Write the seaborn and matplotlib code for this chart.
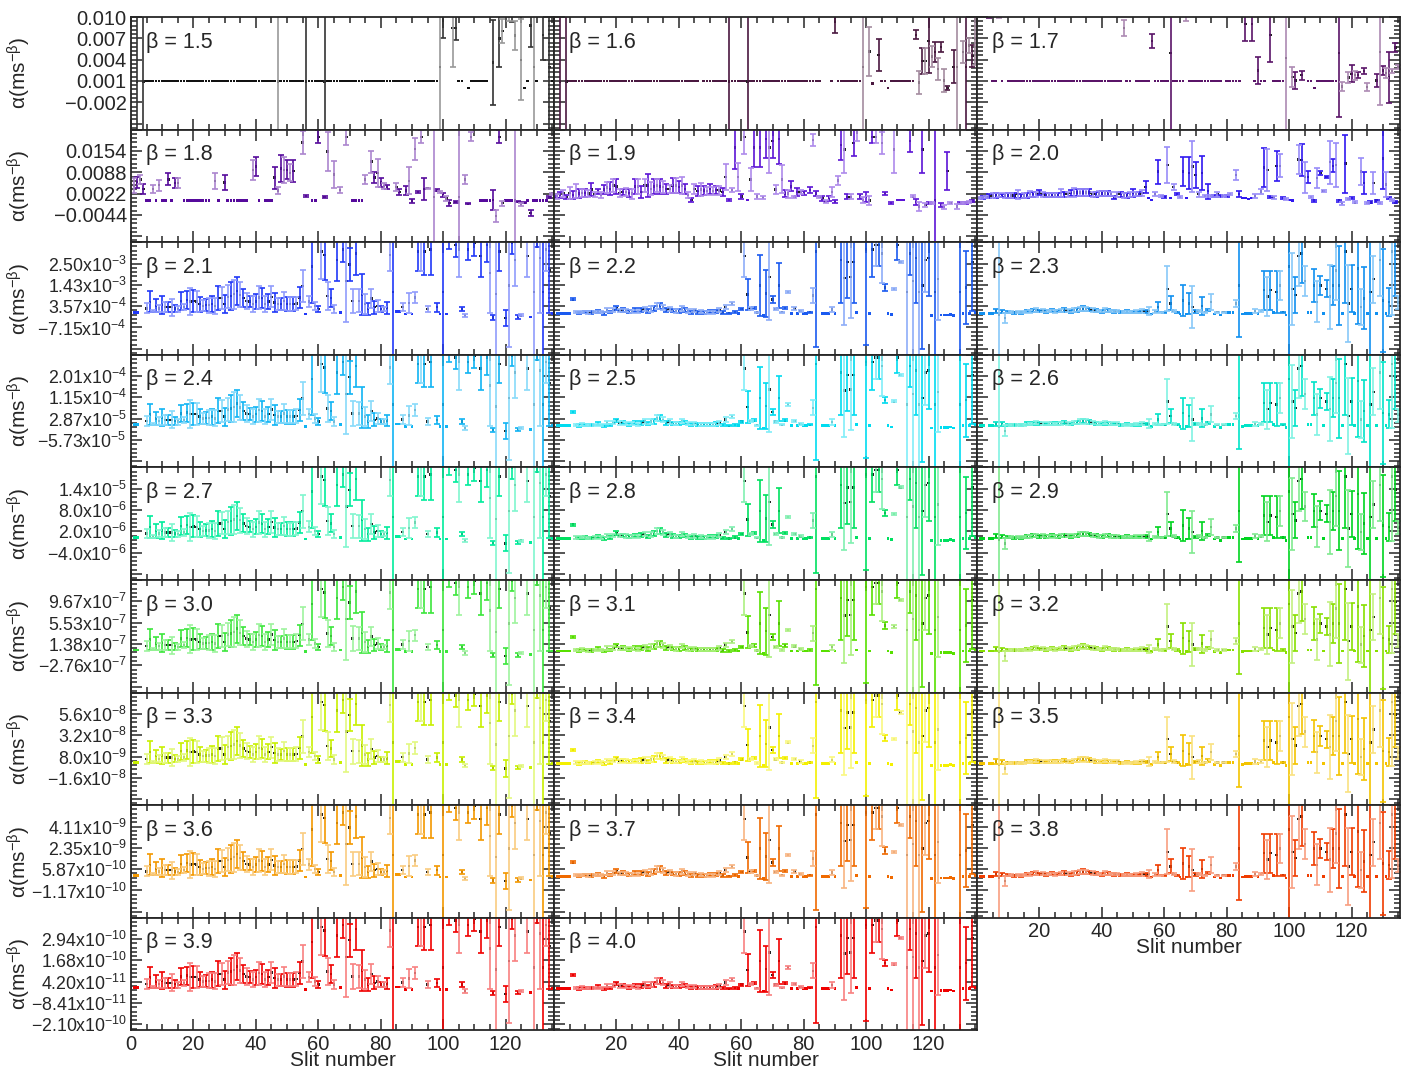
import numpy as np
import pandas as pd
import matplotlib
matplotlib.use("Agg")
import matplotlib.pyplot as plt
import matplotlib.colors as mcolors
from matplotlib.ticker import MultipleLocator, AutoMinorLocator
import seaborn as sns

# ---------------- data ----------------
betas = [1.5, 1.6, 1.7, 1.8, 1.9, 2.0, 2.1, 2.2, 2.3, 2.4, 2.5, 2.6, 2.7,
         2.8, 2.9, 3.0, 3.1, 3.2, 3.3, 3.4, 3.5, 3.6, 3.7, 3.8, 3.9, 4.0]
slit_ids = list(range(136))

# one axis step (distance between labelled y ticks) per row, in ms^-beta
row_step = [0.003, 0.0066, 1.0715e-3, 8.6e-5, 6.0e-6, 4.14e-7, 2.4e-8, 1.76e-9, 1.26e-10]
row_labels = [
    ["", "−0.002", "0.001", "0.004", "0.007", "0.010"],
    ["", "−0.0044", "0.0022", "0.0088", "0.0154", ""],
    ["", "−7.15x10$^{-4}$", "3.57x10$^{-4}$", "1.43x10$^{-3}$", "2.50x10$^{-3}$", ""],
    ["", "−5.73x10$^{-5}$", "2.87x10$^{-5}$", "1.15x10$^{-4}$", "2.01x10$^{-4}$", ""],
    ["", "−4.0x10$^{-6}$", "2.0x10$^{-6}$", "8.0x10$^{-6}$", "1.4x10$^{-5}$", ""],
    ["", "−2.76x10$^{-7}$", "1.38x10$^{-7}$", "5.53x10$^{-7}$", "9.67x10$^{-7}$", ""],
    ["", "−1.6x10$^{-8}$", "8.0x10$^{-9}$", "3.2x10$^{-8}$", "5.6x10$^{-8}$", ""],
    ["", "−1.17x10$^{-10}$", "5.87x10$^{-10}$", "2.35x10$^{-9}$", "4.11x10$^{-9}$", ""],
    ["−2.10x10$^{-10}$", "−8.41x10$^{-11}$", "4.20x10$^{-11}$", "1.68x10$^{-10}$", "2.94x10$^{-10}$", ""],
]

# points as (slit, alpha / row_step, error / row_step); unlisted slits sit on the flat level
pts_15 = [(2, .3, 7), (4, .3, 7), (47, .3, 7), (56, .3, 7), (62, .3, 7), (99, 1.0, 7),
          (100, 3.17, .83), (103, 2.83, 1.83), (104, 2.81, .56), (108, 0, 0), (116, 1.2, 2.0),
          (118, 2.33, 1.33), (119, 2.67, .56), (121, 3.5, .33), (122, 3.5, .4), (123, 2.47, .67),
          (125, 1.33, 1.9), (126, 0, 0), (128, 2.93, 1.0), (129, 1.0, 7), (132, 2.5, 1.2), (134, 1.0, 7)]
miss_15 = [0, 1, 3, 90, 101, 102, 107, 115, 117, 120, 124, 131, 133]

pts_16 = [(2, .3, 7), (4, .3, 7), (56, .3, 7), (62, .3, 7), (90, 3.1, .5), (99, 1.0, 7),
          (101, 1.71, 1.15), (102, .23, 0), (104, 1.56, .74), (107, 0, 0), (116, 2.5, .22),
          (117, .26, .55), (118, 1.27, .59), (119, 1.27, .63), (120, 2.2, 1.5), (121, 1.49, .48),
          (122, 1.7, .48), (123, .9, .52), (124, 1.93, .22), (125, .35, .55), (126, 0, .1),
          (128, 1.0, .78), (129, 1.0, 7), (131, 1.7, .52), (132, 1.0, 7), (133, 2.0, .37),
          (134, 1.5, .5), (135, 2.3, 1.2)]
miss_16 = [0, 1, 3, 47, 86, 87, 88, 100, 103, 127, 130]

pts_17 = [(4, 3.6, .3), (7, 3.6, .3), (47, 2.82, .37), (56, 2.2, .33), (62, 1.64, 6), (67, 3.4, .25),
          (86, 3.0, .8), (88, 3.0, .8), (90, .82, .63), (94, 2.5, 1.3), (99, 1.4, 6), (101, .53, .48),
          (102, .35, .4), (104, .6, .22), (108, 0, 0), (116, 1.64, 3.0), (117, .08, .2), (119, .5, .24),
          (120, .67, .4), (121, .6, .22), (122, .6, .15), (124, .8, .15), (125, .05, .2), (128, .35, .3),
          (129, 1.7, 2.5), (130, .82, .22), (131, .7, .22), (132, .5, 1.2), (133, .8, .1),
          (134, 1.9, .2), (135, 1.0, .1)]
miss_17 = [0, 1, 2, 3, 9, 50, 79, 85, 87, 93, 100, 103, 105, 118, 123, 126, 127]

pts_18 = [(1, .7, .35), (2, .85, .26), (3, 1.0, .22), (4, .55, .22), (7, .55, .17), (9, .73, .26),
          (12, 1.0, .28), (14, .82, .22), (15, .82, .22), (27, .93, .39), (30, .85, .37),
          (39, 1.45, .47), (40, 1.6, .43), (46, 1.08, .52), (47, .48, .15), (48, 1.5, .64),
          (49, 1.45, .6), (50, 1.45, .45), (51, 1.3, .4), (52, 1.38, .52), (55, 2.73, .52),
          (56, .22, .05), (60, 3.0, .3), (62, .18, .05), (63, 2.3, .9), (65, 1.23, .64), (67, .5, .12),
          (69, 3.0, .4), (75, 1.0, .22), (77, 1.83, .52), (78, 1.08, .27), (79, 1.3, .64),
          (80, .85, .2), (81, .7, .15), (82, .63, .1), (85, .63, .2), (86, .4, .15), (88, .48, .2),
          (89, .93, .64), (90, 0, .1), (91, 2.43, .52), (92, .4, .03), (93, 3.0, .3), (94, .55, .52),
          (95, .58, .02), (97, .18, 4.0), (98, .48, .05), (99, .4, .05), (100, .25, .1), (101, .1, .1),
          (102, -.12, .15), (104, -.05, .05), (105, .18, 4.0), (107, 1.0, .22), (108, -.15, .03),
          (109, 3.0, .2), (116, .03, .48), (117, -.72, .26), (118, 3.0, .3), (119, -.12, .12),
          (123, 0, 4.0), (124, -.05, .03), (125, -.2, .07), (126, -.1, .03), (128, -.57, .15),
          (134, .18, .05), (135, .33, .05)]
miss_18 = [0, 16, 26, 29, 38, 42, 53, 54, 57, 61, 64, 66, 68, 70, 76, 83, 84, 87, 96, 103, 106, 110, 111]

pts_19 = [(0, .18, .05), (1, .21, .11), (2, .26, .15), (3, .33, .15), (4, .18, .1), (5, .36, .28),
          (6, .26, .2), (7, .45, .34), (8, .33, .2), (9, .36, .19), (10, .36, .19), (11, .33, .17),
          (12, .52, .3), (13, .3, .11), (14, .44, .11), (15, .26, .13), (16, .52, .23), (17, .61, .27),
          (18, .56, .3), (19, .71, .3), (20, .67, .34), (21, .36, .17), (22, .41, .15), (23, .41, .19),
          (24, .36, .19), (25, .33, .23), (26, .67, .36), (27, .67, .34), (28, .41, .27), (29, .71, .3),
          (30, .71, .53), (31, .56, .3), (32, .67, .34), (33, .71, .3), (34, .67, .34), (35, .64, .27),
          (36, .56, .23), (37, .56, .19), (38, .71, .34), (39, .71, .34), (40, .64, .3), (41, .71, .38),
          (42, .56, .23), (43, .26, .15), (44, .03, .08), (45, .56, .23), (46, .45, .23), (47, .52, .3),
          (48, .48, .23), (49, .45, .19), (50, .56, .23), (51, .45, .2), (52, .5, .2), (53, .48, .2),
          (54, .4, .2), (55, 1.1, .6), (56, .03, .05), (57, .5, .1), (58, 2.5, 1.0), (59, 1.1, .66),
          (60, .2, .1), (61, 3.0, .8), (62, .03, 0), (63, 1.0, .53), (64, 2.5, .9), (65, .2, .1),
          (66, 2.5, .9), (67, .14, .08), (68, 2.9, .9), (69, 2.5, 1.2), (70, 2.8, .8), (71, .52, .2),
          (72, 2.9, 1.2), (73, 1.0, .65), (74, .33, .17), (75, .33, .19), (76, .67, .24), (77, .18, .05),
          (78, .41, .17), (79, .41, .1), (80, .36, .1), (82, .5, .15), (83, 2.85, .3), (84, .33, .1),
          (85, .18, .05), (86, .1, .1), (87, -.05, .08), (88, .1, .1), (89, .41, .25), (90, -.05, .08),
          (91, .95, .2), (92, 2.6, .7), (93, 2.4, 1.1), (94, .18, .12), (95, .18, .12), (96, 2.7, .6),
          (97, 3.2, .4), (98, .2, .13), (99, .03, .15), (100, .18, .23), (101, 0, .2), (102, 3.0, .3),
          (103, 3.0, .3), (105, 2.7, .5), (106, .33, .08), (108, -.12, .05), (109, 2.4, 1.1),
          (110, .03, 0), (111, .03, 0), (112, .03, 0), (114, 2.8, .5), (115, .2, .05), (116, -.05, .15),
          (117, -.27, .2), (118, 2.4, 1.1), (119, -.2, .08), (120, -.1, .05), (121, -.12, .05),
          (122, 0, 4.0), (124, -.2, .1), (125, -.3, .1), (126, 1.4, .9), (127, -.12, .05),
          (129, -.27, .1), (130, -.12, .05), (131, -.1, .05), (132, -.12, .05), (133, -.05, .05),
          (134, 0, .05)]
miss_19 = [81, 104, 107, 113, 123, 128, 135]

pts_20 = [(1, .12, .05), (2, .15, .05), (3, .18, .05), (4, .21, .08), (5, .24, .12), (6, .24, .1),
          (7, .27, .1), (8, .23, .08), (9, .24, .1), (10, .24, .1), (11, .24, .1), (12, .24, .1),
          (13, .3, .2), (14, .21, .08), (15, .24, .1), (16, .24, .1), (17, .3, .14), (18, .3, .12),
          (19, .3, .12), (20, .38, .1), (21, .3, .12), (22, .26, .1), (23, .26, .1), (24, .26, .1),
          (25, .26, .1), (26, .26, .1), (27, .36, .17), (28, .3, .12), (29, .3, .12), (30, .36, .15),
          (31, .39, .21), (32, .38, .18), (33, .38, .18), (34, .38, .18), (35, .38, .18), (36, .38, .15),
          (37, .3, .12), (38, .3, .12), (39, .33, .12), (40, .33, .12), (41, .33, .12), (42, .33, .12),
          (43, .3, .1), (44, .15, .05), (45, .3, .12), (46, .3, .12), (47, .24, .1), (48, .24, .1),
          (49, .3, .12), (50, .36, .19), (51, .3, .1), (52, .3, .1), (53, .36, .15), (54, .64, .3),
          (55, .12, 0), (56, .03, 0), (57, .3, .09), (58, 1.36, .57), (59, .23, .05), (60, .18, .05),
          (61, 1.67, .83), (62, .12, 0), (63, .64, .15), (64, .3, .05), (65, .18, .05), (66, 1.36, .68),
          (67, .12, 0), (68, 1.29, .76), (69, 1.6, 1.2), (70, 1.2, .6), (71, .3, .12), (72, 1.29, .8),
          (73, .23, .05), (74, .45, .35), (75, .23, .05), (76, .23, .05), (77, .3, .12), (78, .23, .05),
          (79, .23, .05), (80, .23, .05), (81, .3, .05), (83, 1.2, .22), (84, .3, .15), (85, .12, 0),
          (86, .12, 0), (87, .08, 0), (88, .12, 0), (89, .23, .1), (91, .42, .12), (92, 1.55, .9),
          (93, 1.44, 1.0), (94, .18, .05), (95, .15, .05), (96, 1.64, .7), (97, 1.64, .53), (98, .12, .05),
          (99, .08, .05), (100, .03, 0), (101, 0, 0), (103, 1.94, .68), (104, 1.9, .75), (105, 1.1, .72),
          (106, 1.1, .27), (107, .18, .05), (108, 0, .05), (109, 1.06, .45), (110, 1.3, .1),
          (111, .45, .05), (112, 1.1, .05), (113, 1.8, 1.0), (114, 1.64, .3), (115, 1.67, 1.05),
          (116, 0, .05), (117, -.12, .08), (118, 1.74, 1.36), (119, .08, .05), (120, .12, .05),
          (121, -.08, .05), (123, 1.36, .64), (124, .83, .53), (125, -.12, .05), (126, -.08, .05),
          (127, .83, .5), (128, 0, .05), (129, -.12, .05), (130, 1.97, 1.44), (131, .76, .6),
          (132, .12, .05), (133, .03, .05), (134, -.08, .05)]
miss_20 = [82, 90, 102, 122, 135]

# column profiles for beta >= 2.1 (same slit pattern within a column, rescaled per row)
pts_left = [(1, .05, 0), (2, .05, 0), (5, .23, .23), (6, .54, .5), (7, .09, .05), (8, .35, .31),
            (9, .23, .17), (10, .38, .41), (11, .28, .23), (12, .28, .23), (13, .28, .4), (14, .23, .17),
            (15, .2, .14), (16, .58, .41), (17, .28, .15), (18, .62, .42), (19, .55, .65), (20, .57, .52),
            (21, .55, .5), (22, .43, .35), (23, .35, .25), (24, .38, .28), (25, .38, .35), (26, .43, .38),
            (27, .35, .38), (28, .71, .58), (29, .71, .52), (30, .43, .43), (31, .77, .54), (32, .82, .65),
            (33, .89, .69), (34, 1.05, .65), (35, .86, .59), (36, .71, .42), (37, .58, .38), (38, .55, .27),
            (39, .43, .36), (40, .55, .35), (41, .74, .54), (42, .71, .46), (43, .43, .36), (44, .55, .35),
            (45, .77, .5), (46, .51, .46), (47, .43, .29), (48, .43, .28), (49, .58, .44), (50, .43, .32),
            (51, .43, .31), (52, .43, .32), (53, .46, .32), (54, .74, .5), (55, 1.28, .77), (56, -.03, 0),
            (57, .55, .25), (58, 2.2, 1.7), (59, .35, .2), (60, .2, .15), (61, 2.9, 1.3), (62, 2.74, 1.2),
            (63, .82, .65), (64, .71, .42), (65, .2, .2), (66, 2.5, 1.0), (67, .05, 0), (68, 3.0, .6),
            (69, 1.5, 1.9), (70, 2.28, .77), (71, .58, .58), (72, 2.8, 1.0), (73, .58, .54), (74, .86, .96),
            (75, .43, .46), (76, .2, .3), (77, .69, .46), (78, .28, .3), (79, .35, .27), (80, .2, .13),
            (81, .2, .1), (82, .25, .28), (83, 2.74, .77), (84, 1.0, 4.0), (85, .09, 0), (86, .09, 0),
            (87, .3, .2), (88, -.03, 0), (89, .48, .46), (90, -.03, 0), (91, .74, .27), (92, 2.9, .9),
            (93, 3.5, 1.5), (94, 2.9, 1.1), (95, .2, .15), (96, 3.0, 1.2), (98, .28, .2), (99, -.03, 0),
            (100, 1.0, 4.0), (101, -.03, 0), (102, 3.4, .4), (104, 3.2, .55), (105, 3.0, 1.3), (106, .2, .1),
            (107, -.1, .08), (108, 3.0, .5), (110, 3.3, .6), (112, 2.7, 1.0), (114, 3.2, .8), (115, 1.9, 1.9),
            (116, -.2, .1), (117, .9, 3.6), (118, 2.9, .9), (120, -.23, .38), (121, 1.3, 2.9), (122, 3.3, .5),
            (123, 2.5, 1.2), (124, -.18, .08), (125, -.1, .05), (127, 2.7, 1.0), (128, -.18, 0),
            (129, 1.0, 3.6), (130, 3.4, .3), (131, 2.6, 2.6), (132, 1.0, 3.6), (133, 3.0, 1.0),
            (134, 2.0, 2.0)]
miss_left = [3, 4, 97, 103, 109, 111, 113, 119, 126]

pts_mid = [(6, .65, .05), (7, .05, .06), (8, .02, .06), (9, .06, .06), (10, .05, .06), (11, .03, .06),
           (12, .03, .06), (13, .05, .06), (14, .1, .07), (15, .05, .06), (16, 0, .06), (17, .15, .08),
           (18, .05, .06), (19, .15, .08), (20, .25, .08), (21, .13, .08), (22, .15, .08), (23, .12, .08),
           (24, .08, .07), (25, .1, .07), (26, .15, .08), (27, .08, .07), (28, .15, .1), (29, .2, .1),
           (30, .1, .08), (31, .2, .12), (32, .22, .12), (33, .35, .14), (34, .35, .14), (35, .28, .12),
           (36, .15, .1), (37, .2, .1), (38, .12, .08), (39, .1, .08), (40, .1, .08), (41, .22, .1),
           (42, .15, .08), (43, .1, .08), (44, .05, .07), (45, .12, .08), (46, .05, .07), (47, .08, .07),
           (48, .05, .07), (49, .05, .07), (50, .08, .07), (51, .05, .07), (52, .08, .08), (53, .15, .1),
           (54, .03, .06), (55, .3, .1), (56, 0, .03), (57, .45, .08), (58, .05, .05), (60, .2, .05),
           (61, 2.7, 1.0), (62, .88, .75), (63, .22, .05), (64, .26, .05), (65, .03, .03), (66, 1.3, 1.45),
           (67, -.1, 0), (68, .93, 1.1), (69, 1.7, 2.0), (70, .65, .15), (71, .2, .05), (72, 1.3, 1.05),
           (73, .05, .03), (74, .26, .05), (75, 1.0, .05), (77, .22, .05), (79, .1, .05), (82, .05, .03),
           (83, .84, .35), (84, 2.9, 4.5), (89, .18, .12), (92, 2.5, 2.0), (93, 1.66, 2.2), (94, 2.4, 1.7),
           (95, 1.7, 1.9), (96, 2.4, 1.9), (97, .05, 0), (100, 3.0, 4.5), (102, 3.0, 1.3), (103, 3.2, 1.0),
           (104, 3.2, 1.0), (105, 2.8, 1.4), (106, 1.2, .15), (108, -.05, 0), (109, 1.15, .05),
           (110, 3.2, .7), (111, 2.4, .05), (113, 1.0, 4.0), (114, 2.8, 1.0), (115, 1.5, 3.5),
           (116, 2.6, 2.1), (117, 1.0, 3.5), (118, 1.3, 3.0), (119, 2.5, 1.5), (120, 2.6, 1.8),
           (121, -.1, 0), (122, 1.0, 4.0), (123, 1.6, 1.9), (124, -.08, 0), (125, -.08, 0), (126, -.08, 0),
           (127, -.05, 0), (128, -.1, 0), (130, 1.0, 4.0), (132, 1.2, 1.7), (134, 2.4, 2.3), (135, .05, 0)]
miss_mid = [85, 91, 98, 99, 112, 129]

pts_right = [(6, .1, .1), (7, -.05, 4.5), (8, .08, .08), (9, -.23, .25), (10, .05, .05), (11, .05, .05),
             (12, .03, .05), (13, .05, .05), (14, .03, .05), (15, .05, .05), (16, .1, .06), (17, .08, .06),
             (18, .12, .07), (19, .15, .08), (20, .1, .06), (21, .12, .07), (22, .08, .06), (23, .1, .06),
             (24, .12, .07), (25, .08, .06), (26, .1, .06), (27, .12, .07), (28, .15, .08), (29, .12, .07),
             (30, .08, .06), (31, .15, .08), (32, .15, .08), (33, .2, .1), (34, .22, .1), (35, .2, .1),
             (36, .18, .08), (37, .15, .08), (38, .12, .07), (39, .1, .06), (40, .08, .06), (41, .15, .08),
             (42, .12, .07), (43, .1, .06), (44, .08, .06), (45, .1, .06), (46, .05, .05), (47, .05, .05),
             (48, .08, .06), (49, .05, .05), (50, .05, .05), (51, .08, .06), (52, .05, .05), (53, .1, .08),
             (54, .08, .06), (55, .1, .2), (56, -.03, 0), (57, .08, .05), (58, .3, .25), (59, .05, .03),
             (60, .05, .03), (61, 1.15, 1.05), (62, .46, .33), (63, .1, .05), (64, .05, .03), (65, -.03, 0),
             (66, .6, .73), (67, -.03, 0), (68, .46, .5), (69, .3, 1.0), (70, .08, .05), (71, .1, .05),
             (72, .35, .42), (73, .05, .03), (74, .15, .05), (75, .54, .38), (76, -.03, 0), (77, .05, .03),
             (78, -.08, 0), (79, .05, .03), (80, .05, 0), (81, .05, 0), (82, .05, 0), (83, .46, .15),
             (84, 1.3, 2.4), (85, -.03, 0), (89, .1, .1), (91, .1, .05), (92, 1.08, .92), (93, .78, .92),
             (94, 1.08, .92), (95, .05, 0), (96, 1.0, 1.0), (97, 1.3, .7), (98, .05, .03), (99, -.08, 0),
             (100, 2.2, 4.5), (101, 1.15, 1.7), (102, .85, .85), (103, 2.7, 1.4), (104, 2.8, 1.4),
             (105, 1.5, .7), (106, .05, 0), (107, .05, 0), (108, 1.3, .77), (109, .54, .96), (110, 1.3, .45),
             (112, 1.15, .4), (113, .78, 1.5), (114, 1.3, .9), (115, 2.0, 1.4), (116, 1.3, 1.85),
             (118, 2.9, 2.4), (119, .46, 1.8), (120, 1.15, 1.1), (122, 2.1, 2.6), (123, .3, .85),
             (124, .7, 1.45), (126, 1.0, 4.0), (127, 1.6, 1.1), (129, 2.5, 1.7), (130, .6, 2.4),
             (132, .54, .65), (133, 2.9, 3.0), (134, 2.3, 1.5), (135, .5, .3)]
miss_right = [3]

panel_colors = ["#333333", "#4a1840", "#5a1468", "#560a9c", "#5c14d6", "#3018f0", "#2038f8",
                "#1a5af0", "#1090f0", "#10b4f4", "#00dcf0", "#00e4c8", "#00ec9c", "#00e060",
                "#00d420", "#3ce63c", "#58e000", "#88e000", "#c8f000", "#f4f000", "#f4c400",
                "#f49800", "#f06a00", "#f03c00", "#f00000", "#f00000"]

own_data = {0: (pts_15, miss_15), 1: (pts_16, miss_16), 2: (pts_17, miss_17),
            3: (pts_18, miss_18), 4: (pts_19, miss_19), 5: (pts_20, miss_20)}
col_data = {0: (pts_left, miss_left), 1: (pts_mid, miss_mid), 2: (pts_right, miss_right)}


def panel_frame(pts, missing, flat):
    d = {s: (flat, 0.0) for s in slit_ids if s not in missing}
    for s, v, e in pts:
        d[s] = (v, e)
    rows = [(s, v, e) for s, (v, e) in sorted(d.items())]
    return pd.DataFrame(rows, columns=["slit", "u", "err"])


def lighten(c, f):
    r = np.array(mcolors.to_rgb(c))
    return tuple(r + (1 - r) * f)


# ---------------- figure ----------------
sns.set_style("ticks")
plt.rcParams["font.family"] = ["Liberation Sans", "DejaVu Sans"]
plt.rcParams["mathtext.fontset"] = "custom"
plt.rcParams["mathtext.rm"] = "Liberation Sans"
plt.rcParams["mathtext.it"] = "Liberation Sans:italic"
plt.rcParams["mathtext.default"] = "regular"
plt.rcParams["axes.linewidth"] = 1.3

W, H = 1411, 1069
fig = plt.figure(figsize=(W / 100, H / 100), dpi=100)
left0, top0, pw, ph = 131, 17, 423, 112.6

for i, b in enumerate(betas):
    r, c = divmod(i, 3)
    ax = fig.add_axes([(left0 + c * pw) / W, 1 - (top0 + (r + 1) * ph) / H, pw / W, ph / H])
    step = row_step[r]
    if i in own_data:
        pts, miss = own_data[i]
    else:
        pts, miss = col_data[c]
    df = panel_frame(pts, miss, 1 / 3 if r == 0 else 0.0)
    df["alpha"] = df["u"] * step
    df["aerr"] = df["err"] * step
    col = panel_colors[i]

    for par, ec in [(0, col), (1, lighten(col, 0.5))]:
        sub = df[(df["slit"] % 2 == par) & (df["aerr"] > 0)]
        ax.errorbar(sub["slit"], sub["alpha"], yerr=sub["aerr"], fmt="none", ecolor=ec,
                    elinewidth=1.2, capsize=2.0, capthick=1.2)
    flat = df[df["aerr"] == 0]
    bars = df[df["aerr"] > 0]
    sns.scatterplot(data=flat, x="slit", y="alpha", ax=ax, marker="s", s=4,
                    color=col if i else "#111111", edgecolor="none", legend=False)
    sns.scatterplot(data=bars, x="slit", y="alpha", ax=ax, marker="s", s=3,
                    color="#222222", edgecolor="none", legend=False)

    ax.set_xlim(0, 135.5)
    ax.set_ylim(-1.95 * step, 3.3345 * step)
    ax.xaxis.set_major_locator(MultipleLocator(20))
    ax.xaxis.set_minor_locator(MultipleLocator(5))
    ax.set_yticks([(k + 1 / 3) * step for k in range(-2, 4)])
    ax.yaxis.set_minor_locator(AutoMinorLocator(5))
    ax.tick_params(which="both", direction="in", top=True, right=True, width=1.1,
                   labelsize=14.5, pad=3)
    ax.tick_params(axis="y", labelsize=14.5 if r < 2 else 12.8)
    ax.tick_params(which="major", length=8)
    ax.tick_params(which="minor", length=4)

    if c == 0:
        ax.set_yticklabels(row_labels[r])
        ax.set_ylabel("α(ms$^{-β}$)", fontsize=15)
        ax.yaxis.set_label_coords(-0.232, 0.5)
    else:
        ax.tick_params(labelleft=False)
        ax.set_ylabel("")

    if i in (23, 24, 25):
        ax.set_xticks([0, 20, 40, 60, 80, 100, 120])
        ax.set_xticklabels(["0" if i == 24 else "", "20", "40", "60", "80", "100", "120"])
        ax.set_xlabel("Slit number", fontsize=15, labelpad=-2)
    else:
        ax.tick_params(labelbottom=False)
        ax.set_xlabel("")

    ax.text(0.036, 0.87, f"β = {b:.1f}", transform=ax.transAxes, ha="left", va="top", fontsize=15.5)

fig.savefig("out.png", dpi=100)
